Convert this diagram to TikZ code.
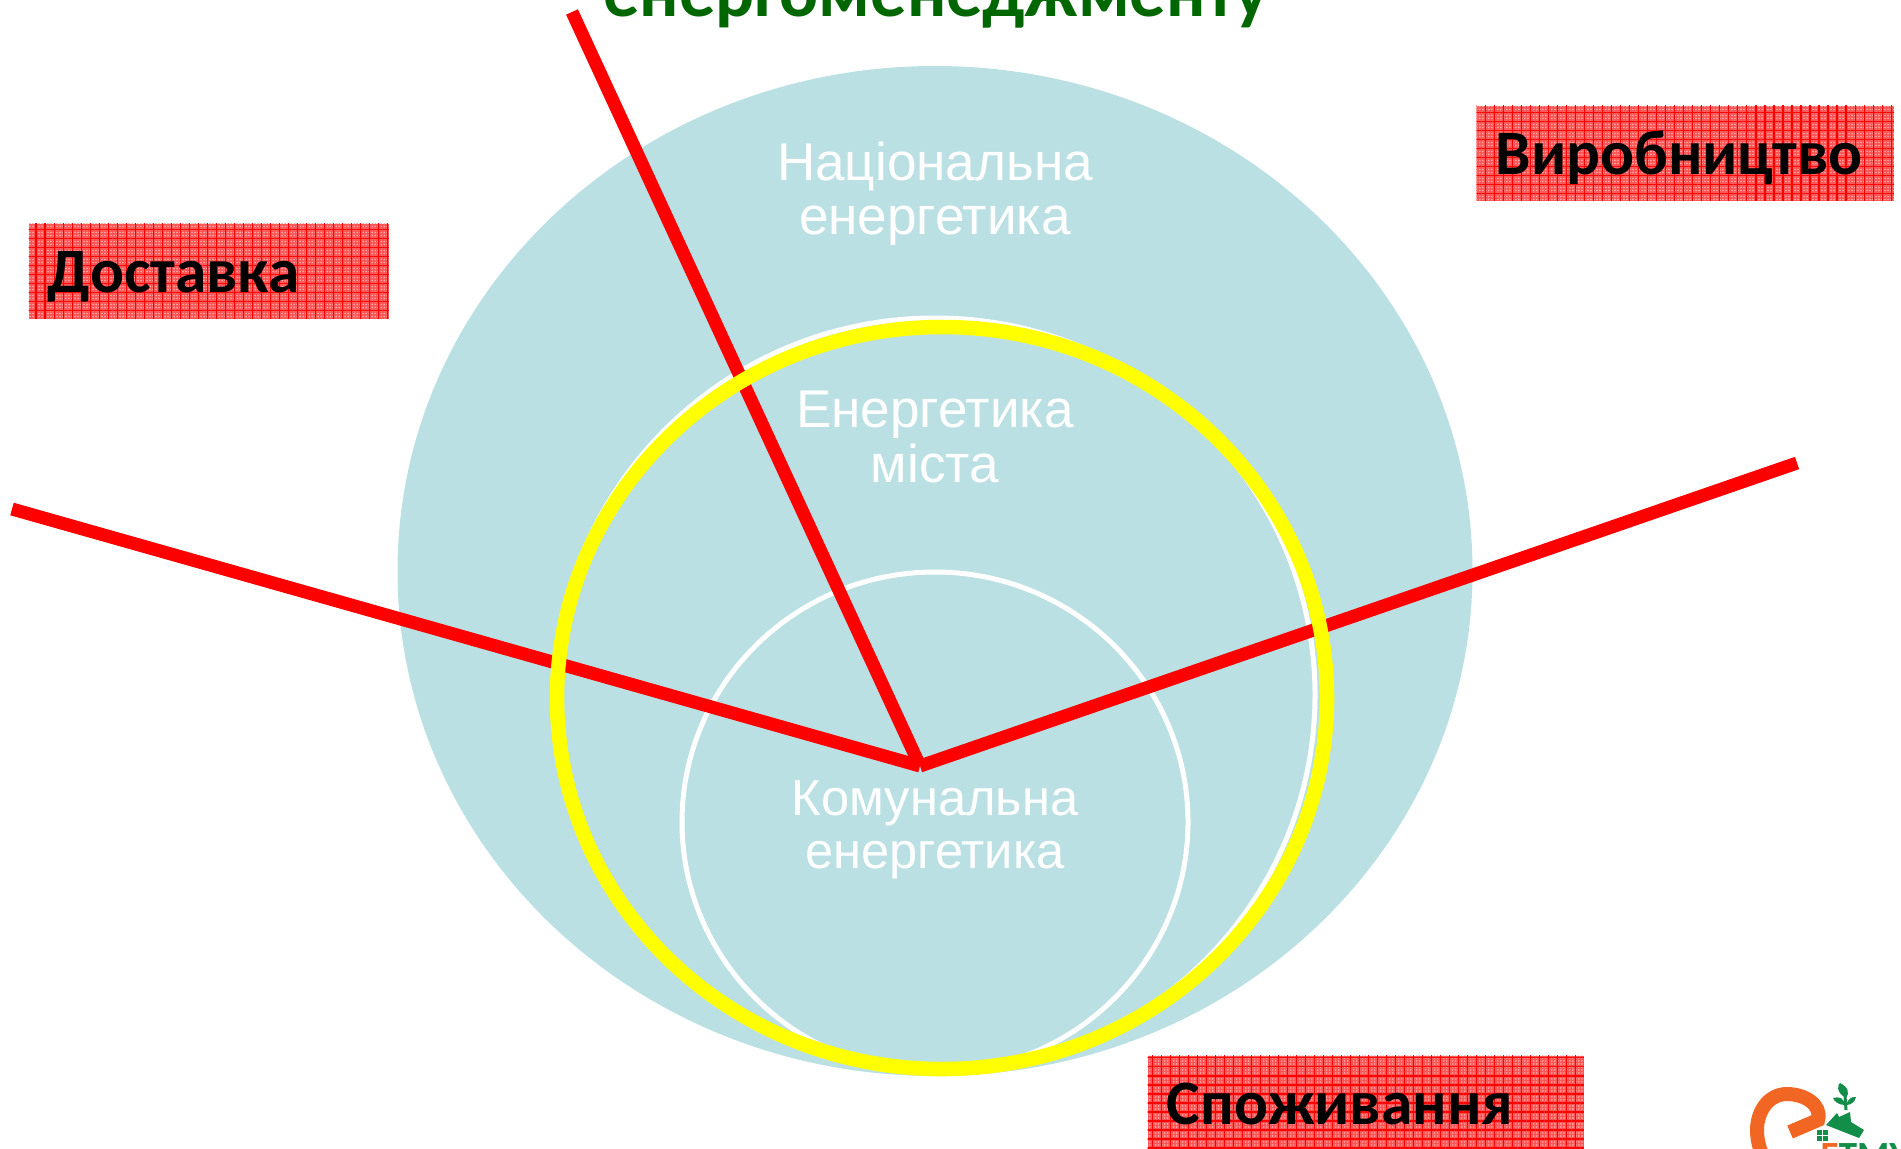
\documentclass[tikz,border=0pt]{standalone}
\usepackage{fontspec}
\setmainfont{Liberation Sans}
\newfontfamily\boxfont{Carlito}[BoldFont=Carlito Bold]
\usetikzlibrary{patterns.meta}

\definecolor{paleblue}{RGB}{186,224,227}
\definecolor{ringyellow}{RGB}{255,255,0}
\definecolor{boxred}{RGB}{255,84,84}
\definecolor{boxdot}{RGB}{255,170,170}
\definecolor{darkgreen}{RGB}{0,102,0}
\definecolor{logoorange}{RGB}{241,102,34}
\definecolor{logogreen}{RGB}{18,142,72}

\tikzset{
  ring/.style={draw=white, line width=.05cm},
  spoke/.style={draw=red, line width=.13cm},
  circletext/.style={text=white, align=center, font=\fontsize{15.1}{15.4}\selectfont},
  labelbox/.style={anchor=north west, minimum height=.95cm, inner xsep=.19cm, inner ysep=0pt, align=left,
    text height=.59cm, text depth=.16cm, font=\boxfont\bfseries\fontsize{18}{18}\selectfont,
    preaction={fill=boxred},
    preaction={pattern={Dots[distance=.03cm, radius=.009cm]}, pattern color=boxdot},
    pattern={Lines[angle=0, distance=.09cm, line width=.3pt]}, pattern color=red,
    postaction={pattern={Lines[angle=90, distance=.09cm, line width=.3pt]}, pattern color=red}},
}

\begin{document}
\begin{tikzpicture}[x=.01cm, y=-.01cm]
    \useasboundingbox (0,0) rectangle (1901,1148);
    \begin{scope}
      \clip (0,0) rectangle (1901,1148);

      % Nested circles
      \fill[paleblue] (935,571) ellipse [x radius=537.5, y radius=505];
      \draw[ring] (935,695) ellipse [x radius=380, y radius=377];
      \draw[ring] (935,822) ellipse [x radius=253, y radius=250];

      % Circle labels
      \node[circletext] (national) at (935,194) {Національна\\енергетика};
      \node[circletext] (city) at (935,437) {Енергетика\\міста};
      \node[circletext, font=\fontsize{14.4}{14.9}\selectfont] (communal) at (935,830) {Комунальна\\енергетика};

      % Red spokes
      \coordinate (hub) at (920,766);
      \coordinate (deliveryend) at (12,509);
      \coordinate (titleend) at (572,12);
      \coordinate (productionend) at (1797,463);
      \foreach \e in {deliveryend,titleend,productionend} \draw[spoke] (hub) -- (\e);

      % Yellow ring
      \draw[ringyellow, line width=.145cm] (942,698) ellipse [x radius=385, y radius=371];

      % Title, cut by the top edge
      \node[anchor=base, text=darkgreen, font=\boxfont\bfseries\fontsize{20.65}{20.65}\selectfont] (title) at (936,16) {енергоменеджменту};

      % Red boxes
      \node[labelbox, minimum width=4.17cm, text width=3.79cm] (production) at (1476,105) {Виробництво};
      \node[labelbox, minimum width=3.60cm, text width=3.22cm] (delivery) at (28,223) {Доставка};
      \node[labelbox, minimum width=4.36cm, text width=3.98cm] (consumption) at (1147,1055) {Споживання};

      % Logo
      \draw[logoorange, line width=.14cm] (1790,1132) -- (1818,1120) .. controls (1822,1105) and (1805,1094) .. (1787,1094)
        .. controls (1768,1094) and (1757,1112) .. (1757,1130) .. controls (1757,1145) and (1762,1155) .. (1768,1165);
      \fill[logogreen] (1826,1125) -- (1837,1113) -- (1839,1117) -- (1850,1112) -- (1851,1122) -- (1864,1130) -- (1859,1138) -- cycle;
      \foreach \x in {1817,1823} \foreach \y in {1130,1136} \fill[logogreen] (\x,\y) rectangle +(5,5);
      \draw[logogreen, line width=.03cm] (1846,1110) -- (1845,1096);
      \fill[logogreen] (1846,1098) .. controls (1835,1092) and (1838,1084) .. (1840,1083) .. controls (1848,1087) and (1850,1093) .. (1846,1098);
      \fill[logogreen] (1845,1105) .. controls (1838,1105) and (1834,1101) .. (1833,1098) .. controls (1839,1096) and (1844,1098) .. (1845,1105);
      \fill[logogreen] (1846,1105) .. controls (1848,1099) and (1852,1096) .. (1856,1097) .. controls (1855,1102) and (1851,1105) .. (1846,1105);
      \node[anchor=north west, inner sep=0pt, text=logogreen, font=\boxfont\bfseries\fontsize{10.5}{10.5}\selectfont] (logotext) at (1820,1143) {\textcolor{logoorange}{Е}ТМУ};
    \end{scope}
\end{tikzpicture}
\end{document}
